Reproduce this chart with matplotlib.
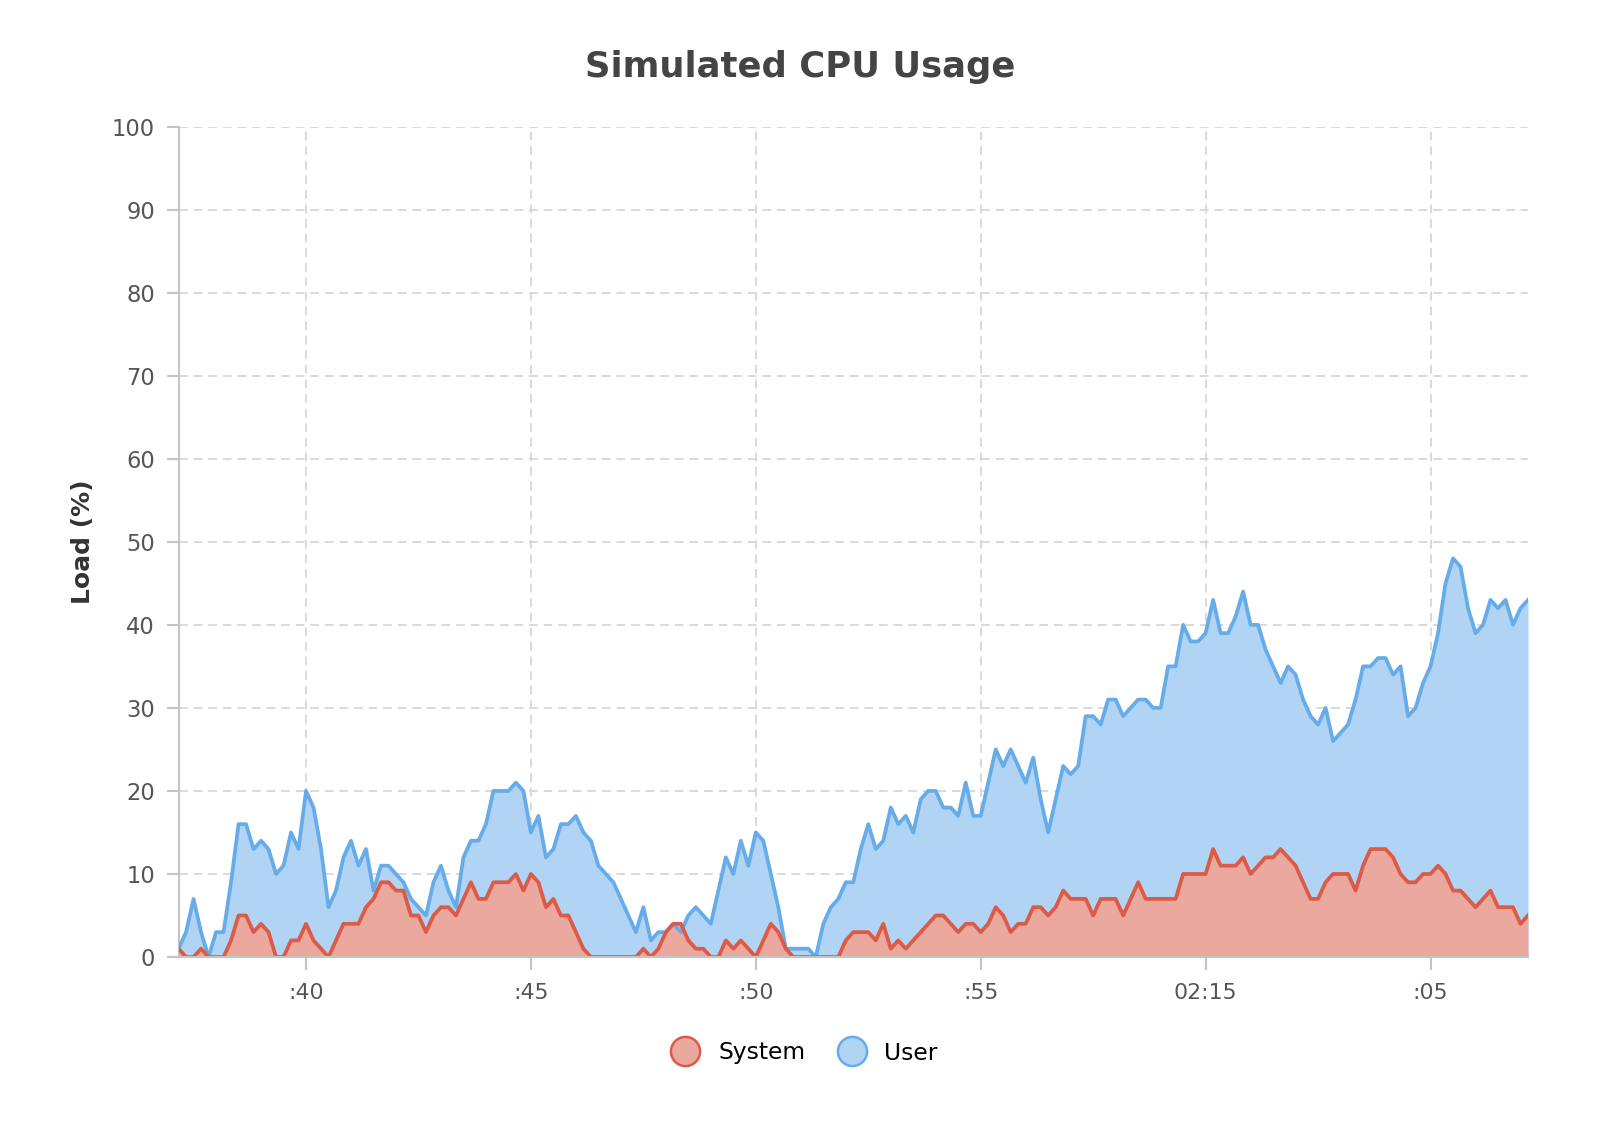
import numpy as np
import pandas as pd
import matplotlib
matplotlib.use("Agg")
from matplotlib import pyplot as plt
from matplotlib.lines import Line2D

# samples every 10 s, starting at 01:37:10
start_time = "2024-01-01 01:37:10"
step = "10s"

user_load = [
    1, 3, 7, 3, 0, 3, 3, 9, 16, 16, 13, 14, 13, 10, 11, 15, 13, 20, 18, 13,
    6, 8, 12, 14, 11, 13, 8, 11, 11, 10,
    9, 7, 6, 5, 9, 11, 8, 6, 12, 14, 14, 16, 20, 20, 20, 21, 20, 15, 17, 12,
    13, 16, 16, 17, 15, 14, 11, 10, 9, 7,
    5, 3, 6, 2, 3, 3, 4, 3, 5, 6, 5, 4, 8, 12, 10, 14, 11, 15, 14, 10,
    6, 1, 1, 1, 1, 0, 4, 6, 7, 9,
    9, 13, 16, 13, 14, 18, 16, 17, 15, 19, 20, 20, 18, 18, 17, 21, 17, 17, 21, 25,
    23, 25, 23, 21, 24, 19, 15, 19, 23, 22,
    23, 29, 29, 28, 31, 31, 29, 30, 31, 31, 30, 30, 35, 35, 40, 38, 38, 39, 43, 39,
    39, 41, 44, 40, 40, 37, 35, 33, 35, 34,
    31, 29, 28, 30, 26, 27, 28, 31, 35, 35, 36, 36, 34, 35, 29, 30, 33, 35, 39, 45,
    48, 47, 42, 39, 40, 43, 42, 43, 40, 42, 43,
]

system_load = [
    1, 0, 0, 1, 0, 0, 0, 2, 5, 5, 3, 4, 3, 0, 0, 2, 2, 4, 2, 1,
    0, 2, 4, 4, 4, 6, 7, 9, 9, 8,
    8, 5, 5, 3, 5, 6, 6, 5, 7, 9, 7, 7, 9, 9, 9, 10, 8, 10, 9, 6,
    7, 5, 5, 3, 1, 0, 0, 0, 0, 0,
    0, 0, 1, 0, 1, 3, 4, 4, 2, 1, 1, 0, 0, 2, 1, 2, 1, 0, 2, 4,
    3, 1, 0, 0, 0, 0, 0, 0, 0, 2,
    3, 3, 3, 2, 4, 1, 2, 1, 2, 3, 4, 5, 5, 4, 3, 4, 4, 3, 4, 6,
    5, 3, 4, 4, 6, 6, 5, 6, 8, 7,
    7, 7, 5, 7, 7, 7, 5, 7, 9, 7, 7, 7, 7, 7, 10, 10, 10, 10, 13, 11,
    11, 11, 12, 10, 11, 12, 12, 13, 12, 11,
    9, 7, 7, 9, 10, 10, 10, 8, 11, 13, 13, 13, 12, 10, 9, 9, 10, 10, 11, 10,
    8, 8, 7, 6, 7, 8, 6, 6, 6, 4, 5,
]

tick_times = ["2024-01-01 01:40", "2024-01-01 01:45", "2024-01-01 01:50",
              "2024-01-01 01:55", "2024-01-01 02:00", "2024-01-01 02:05"]
tick_labels = [":40", ":45", ":50", ":55", "02:15", ":05"]

times = pd.date_range(start_time, periods=len(user_load), freq=step)

blue_line = "#66acea"
blue_fill = "#b1d4f4"
red_line = "#dc5a46"
red_fill = "#eaa89f"
grid_col = "#d9d9d9"
axis_col = "#c4c4c4"

fig = plt.figure(figsize=(16, 11.4), dpi=100)
ax = fig.add_axes([0.1116, 0.1605, 0.955 - 0.1116, 0.889 - 0.1605])

ax.fill_between(times, 0, user_load, color=blue_fill, lw=0, zorder=2)
ax.plot(times, user_load, color=blue_line, lw=2.7, zorder=4)
ax.fill_between(times, 0, system_load, color=red_fill, lw=0, zorder=3)
ax.plot(times, system_load, color=red_line, lw=2.7, zorder=5)

ax.set_xlim(times[0], times[-1])
ax.set_ylim(0, 100)
ax.set_yticks(np.arange(0, 101, 10))
ax.set_xticks(pd.to_datetime(tick_times))
ax.set_xticklabels(tick_labels)

ax.grid(True, color=grid_col, lw=1.4, linestyle=(0, (4.5, 3)), zorder=1)
ax.set_axisbelow(True)

for s in ["top", "right"]:
    ax.spines[s].set_visible(False)
ax.spines["left"].set_color(axis_col)
ax.spines["left"].set_linewidth(1.5)
ax.spines["bottom"].set_color(axis_col)
ax.spines["bottom"].set_linewidth(1.5)
ax.spines["bottom"].set_zorder(6)

ax.tick_params(axis="y", length=9, width=1.5, color=axis_col, pad=8,
               labelsize=16.3, labelcolor="#555555")
ax.tick_params(axis="x", length=9, width=1.5, color=axis_col, pad=10,
               labelsize=15.8, labelcolor="#555555")

ax.set_ylabel("Load (%)", fontsize=18, fontweight="bold", color="#333333",
              labelpad=12)
fig.text(0.5, 1 - 67 / 1140, "Simulated CPU Usage", ha="center", va="center",
         fontsize=25.5, fontweight="bold", color="#444444")

handles = [
    Line2D([], [], ls="none", marker="o", markersize=21, markerfacecolor=red_fill,
           markeredgecolor=red_line, markeredgewidth=1.8),
    Line2D([], [], ls="none", marker="o", markersize=21, markerfacecolor=blue_fill,
           markeredgecolor=blue_line, markeredgewidth=1.8),
]
fig.legend(handles, ["System", "User"], loc="center",
           bbox_to_anchor=(0.5, 1 - 1053 / 1140), ncol=2, frameon=False,
           fontsize=16.8, handletextpad=0.4, columnspacing=1.0)

fig.savefig("out.png", dpi=100)
